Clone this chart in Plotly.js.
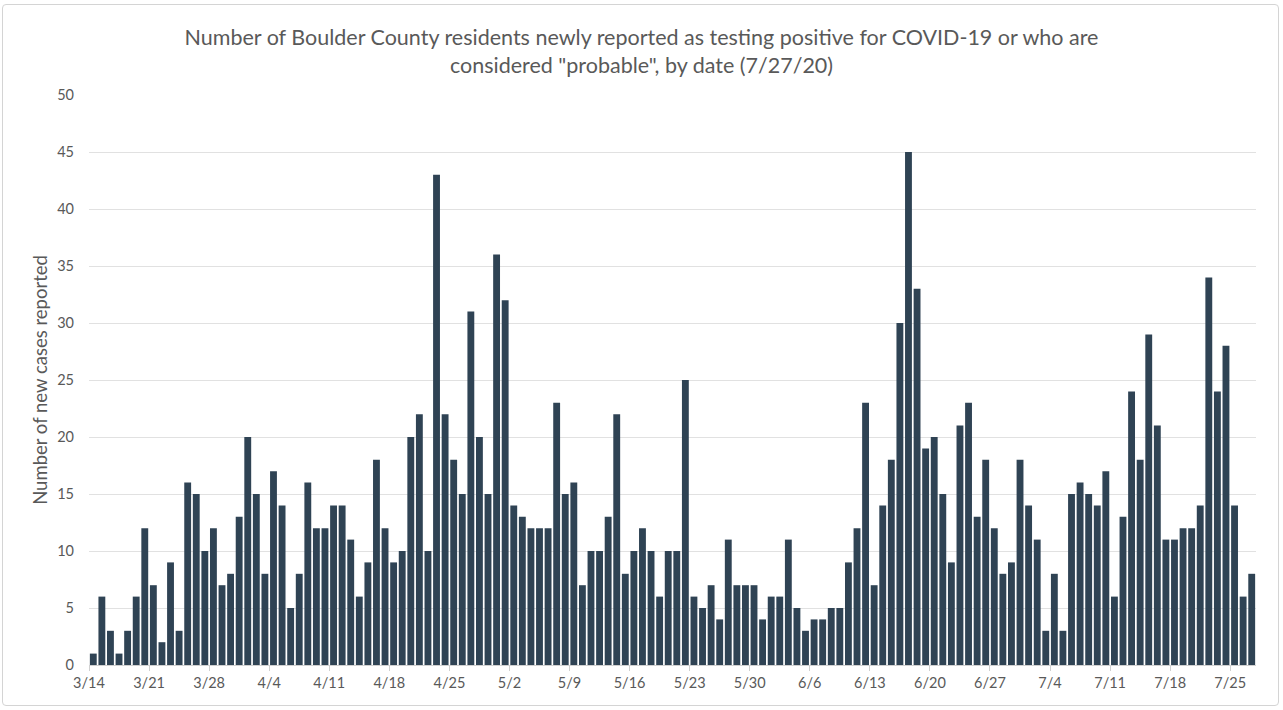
<!DOCTYPE html>
<html>
<head>
<meta charset="utf-8">
<script src="https://cdn.plot.ly/plotly-3.0.1.min.js"></script>
<style>
  html, body { margin: 0; padding: 0; background: #ffffff; }
  #wrap { position: relative; width: 1283px; height: 710px; }
  #chart { width: 1283px; height: 710px; }
  #frame { position: absolute; left: 2px; top: 4px; width: 1277px; height: 702px;
           border: 1px solid #d4d4d4; border-radius: 4px; pointer-events: none; box-sizing: border-box; }
</style>
</head>
<body>
<div id="wrap">
  <div id="chart"></div>
  <div id="frame"></div>
</div>
<script>
// Daily new cases, 3/14/2020 through 7/27/2020
const startDate = '2020-03-14';
const marchCases = [1, 6, 3, 1, 3, 6, 12, 7, 2, 9, 3, 16, 15, 10, 12, 7, 8, 13];
const aprilCases = [20, 15, 8, 17, 14, 5, 8, 16, 12, 12, 14, 14, 11, 6, 9, 18, 12, 9, 10, 20,
                    22, 10, 43, 22, 18, 15, 31, 20, 15, 36];
const mayCases   = [32, 14, 13, 12, 12, 12, 23, 15, 16, 7, 10, 10, 13, 22, 8, 10, 12, 10, 6, 10,
                    10, 25, 6, 5, 7, 4, 11, 7, 7, 7, 4];
const juneCases  = [6, 6, 11, 5, 3, 4, 4, 5, 5, 9, 12, 23, 7, 14, 18, 30, 45, 33, 19, 20,
                    15, 9, 21, 23, 13, 18, 12, 8, 9, 18];
const julyCases  = [14, 11, 3, 8, 3, 15, 16, 15, 14, 17, 6, 13, 24, 18, 29, 21, 11, 11, 12, 12,
                    14, 34, 24, 28, 14, 6, 8];

const cases = [].concat(marchCases, aprilCases, mayCases, juneCases, julyCases);

function isoDay(offset) {
  const d = new Date(Date.UTC(2020, 2, 14 + offset));
  return d.toISOString().slice(0, 10);
}
const dates = cases.map((_, i) => isoDay(i));

const titleText = 'Number of Boulder County residents newly reported as testing positive for COVID-19 or who are<br>considered "probable", by date (7/27/20)';
const yTitle = 'Number of new cases reported';

const trace = {
  type: 'bar',
  x: dates,
  y: cases,
  xperiod: 86400000,
  xperiodalignment: 'middle',
  marker: { color: '#2f4354', line: { width: 0 } },
  hoverinfo: 'x+y'
};

const layout = {
  width: 1283,
  height: 710,
  paper_bgcolor: '#ffffff',
  plot_bgcolor: '#ffffff',
  margin: { l: 89, r: 27, t: 95, b: 45 },
  bargap: 0.2,
  showlegend: false,
  font: { family: 'Lato, "DejaVu Sans", sans-serif', color: '#595959' },
  title: {
    text: titleText,
    x: 0.5, xanchor: 'center',
    y: 0.936, yanchor: 'top',
    font: { family: 'Lato, sans-serif', size: 21.5, color: '#595959', lineposition: 'none' }
  },
  xaxis: {
    type: 'date',
    range: ['2020-03-14', '2020-07-28'],
    tick0: startDate,
    dtick: 7 * 86400000,
    tickformat: '%-m/%-d',
    ticks: 'outside',
    ticklen: 5,
    tickcolor: '#d0d0d0',
    showline: true,
    linecolor: '#d0d0d0',
    linewidth: 1,
    showgrid: false,
    zeroline: false,
    tickfont: { family: 'Lato, sans-serif', size: 14.5, color: '#595959' }
  },
  yaxis: {
    range: [0, 50],
    dtick: 5,
    tick0: 0,
    showgrid: true,
    gridcolor: '#e1e1e1',
    gridwidth: 1,
    zeroline: false,
    showline: false,
    ticks: '',
    ticklabelstandoff: 14,
    tickfont: { family: 'Lato, sans-serif', size: 14.5, color: '#595959' },
    title: {
      text: yTitle,
      standoff: 4,
      font: { family: 'Lato, sans-serif', size: 18.5, color: '#595959' }
    }
  }
};

Plotly.newPlot('chart', [trace], layout, { displayModeBar: false, staticPlot: true });
</script>
</body>
</html>
